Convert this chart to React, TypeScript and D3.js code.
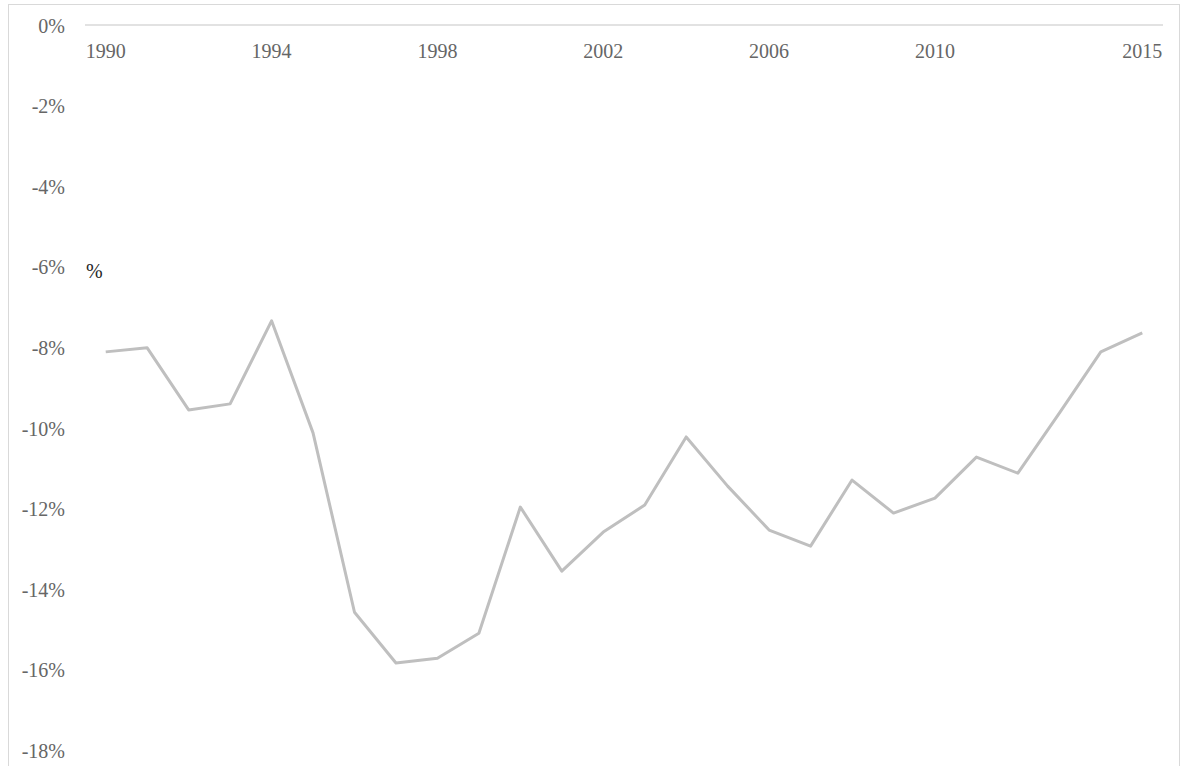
import React from "react";
import * as d3 from "d3";

const years: number[] = d3.range(1990, 2016);
const values: number[] = [
  -8.11, -8.01, -9.55, -9.4, -7.34, -10.12, -14.57, -15.83, -15.71, -15.09,
  -11.96, -13.55, -12.58, -11.91, -10.22, -11.44, -12.53, -12.93, -11.29, -12.11,
  -11.74, -10.72, -11.12, -9.63, -8.11, -7.64,
];
const xTickYears: number[] = [1990, 1994, 1998, 2002, 2006, 2010, 2015];
const yTicks: number[] = [0, -2, -4, -6, -8, -10, -12, -14, -16, -18];
const unitLabel = "%";

const W = 1182;
const H = 766;
const FONT = "'Liberation Serif', 'Times New Roman', serif";

export default function App() {
  const x = d3
    .scaleBand<number>()
    .domain(years)
    .range([85, 1163])
    .paddingInner(0)
    .paddingOuter(0);
  const y = d3.scaleLinear().domain([0, -18]).range([25, 750.5]);

  const line = d3
    .line<number>()
    .x((_, i) => (x(years[i]) as number) + x.bandwidth() / 2)
    .y((d) => y(d));

  return (
    <svg
      width={W}
      height={H}
      style={{ position: "absolute", left: 0, top: 0, background: "#fff" }}
    >
      {/* chart frame */}
      <rect
        x={8.5}
        y={4.5}
        width={1171}
        height={800}
        fill="none"
        stroke="#d9d9d9"
        strokeWidth={1}
      />
      {/* horizontal axis at zero */}
      <line
        x1={85}
        x2={1163}
        y1={y(0)}
        y2={y(0)}
        stroke="#d9d9d9"
        strokeWidth={1.5}
      />
      {/* y tick labels */}
      {yTicks.map((t) => (
        <text
          key={t}
          x={65}
          y={y(t)}
          dy="0.38em"
          textAnchor="end"
          fontFamily={FONT}
          fontSize={20}
          fill="#666666"
        >
          {`${t}%`}
        </text>
      ))}
      {/* x tick labels */}
      {xTickYears.map((yr) => (
        <text
          key={yr}
          x={(x(yr) as number) + x.bandwidth() / 2}
          y={58}
          textAnchor="middle"
          fontFamily={FONT}
          fontSize={20}
          fill="#666666"
        >
          {yr}
        </text>
      ))}
      {/* unit label */}
      <text x={86} y={278} fontFamily={FONT} fontSize={20} fill="#262626">
        {unitLabel}
      </text>
      {/* data line */}
      <path
        d={line(values) ?? ""}
        fill="none"
        stroke="#bfbfbf"
        strokeWidth={3}
        strokeLinejoin="round"
      />
    </svg>
  );
}
